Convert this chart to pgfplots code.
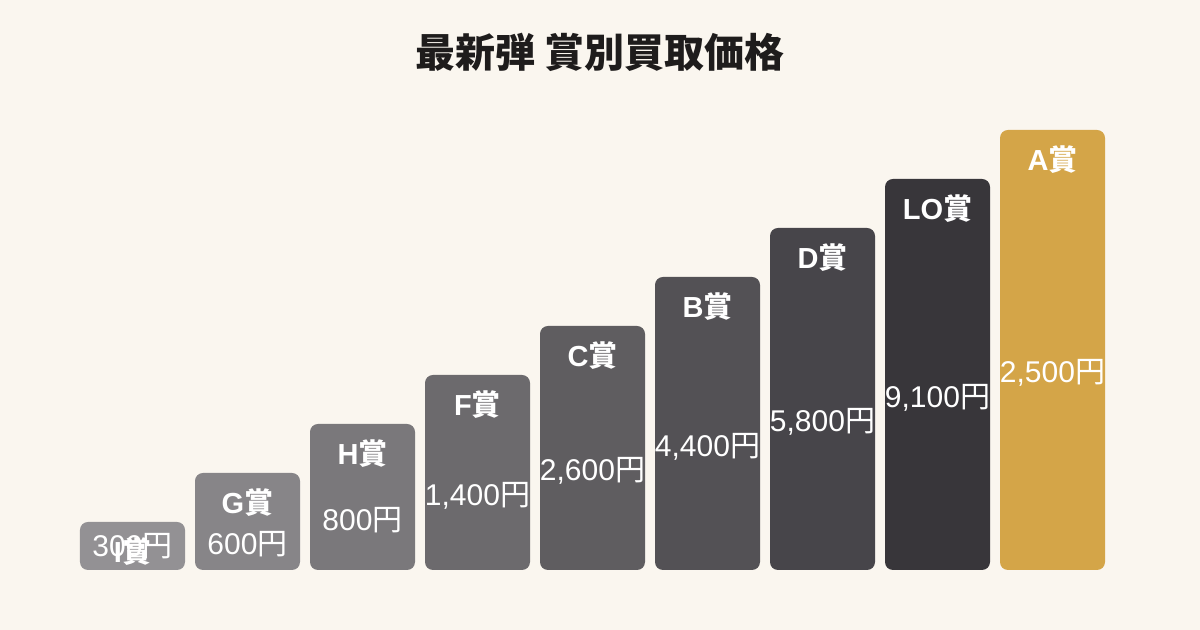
\documentclass[border=0pt]{standalone}
\usepackage{fontspec}
\setmainfont{Noto Sans CJK JP}
\newfontfamily\lat{Liberation Sans}
\usepackage{pgfplots}
\pgfplotsset{compat=1.18}

\definecolor{bg}{HTML}{FAF6EF}
\definecolor{titlec}{HTML}{1E1C1C}
\definecolor{cI}{HTML}{939194}
\definecolor{cG}{HTML}{878588}
\definecolor{cH}{HTML}{7A787B}
\definecolor{cF}{HTML}{6C6A6D}
\definecolor{cC}{HTML}{5F5D60}
\definecolor{cB}{HTML}{535155}
\definecolor{cD}{HTML}{47454A}
\definecolor{cLO}{HTML}{38363A}
\definecolor{cA}{HTML}{D4A548}

\pgfplotsset{
  prize/.style={ybar, bar shift=0pt, draw=none, fill=#1, rounded corners=4pt},
}

\begin{document}
\begin{tikzpicture}
\fill[bg] (0,0) rectangle (600pt,315pt);
\node[font=\bfseries\fontsize{20}{24}\selectfont, text=titlec] at (300pt,289pt) {最新弾 賞別買取価格};
\begin{axis}[
    at={(37.5pt,30pt)}, anchor=south west,
    scale only axis, width=517.5pt, height=220.5pt,
    xmin=-0.5, xmax=8.5, ymin=0, ymax=9,
    axis lines=none, clip=false,
    bar width=52.5pt,
]
% bars: equal steps, one per prize
\addplot[prize=cI]  coordinates {(0,0.98)};
\addplot[prize=cG]  coordinates {(1,1.98)};
\addplot[prize=cH]  coordinates {(2,2.98)};
\addplot[prize=cF]  coordinates {(3,3.98)};
\addplot[prize=cC]  coordinates {(4,4.98)};
\addplot[prize=cB]  coordinates {(5,5.98)};
\addplot[prize=cD]  coordinates {(6,6.98)};
\addplot[prize=cLO] coordinates {(7,7.98)};
\addplot[prize=cA]  coordinates {(8,8.98)};

% prize names
\addplot[only marks, mark=none, point meta=explicit symbolic, nodes near coords,
  nodes near coords style={anchor=center, text=white, font=\bfseries\fontsize{14.5}{17}\selectfont}]
  coordinates {
    (0,0.37) [{{\lat\bfseries I}賞}]
    (1,1.37) [{{\lat\bfseries G}賞}]
    (2,2.37) [{{\lat\bfseries H}賞}]
    (3,3.37) [{{\lat\bfseries F}賞}]
    (4,4.37) [{{\lat\bfseries C}賞}]
    (5,5.37) [{{\lat\bfseries B}賞}]
    (6,6.37) [{{\lat\bfseries D}賞}]
    (7,7.37) [{{\lat\bfseries LO}賞}]
    (8,8.37) [{{\lat\bfseries A}賞}]
  };
% prices
\addplot[only marks, mark=none, point meta=explicit symbolic, nodes near coords,
  nodes near coords style={anchor=center, text=white, font=\fontsize{15}{17}\selectfont}]
  coordinates {
    (0,0.49) [{{\lat 300}円}]
    (1,0.52) [{{\lat 600}円}]
    (2,1.02) [{{\lat 800}円}]
    (3,1.52) [{{\lat 1,400}円}]
    (4,2.02) [{{\lat 2,600}円}]
    (5,2.52) [{{\lat 4,400}円}]
    (6,3.02) [{{\lat 5,800}円}]
    (7,3.52) [{{\lat 9,100}円}]
    (8,4.02) [{{\lat 2,500}円}]
  };
\end{axis}
\end{tikzpicture}
\end{document}
